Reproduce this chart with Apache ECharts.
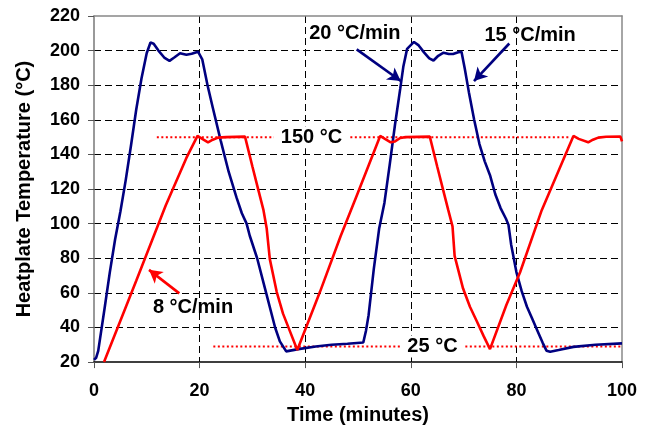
<!DOCTYPE html>
<html>
<head>
<meta charset="utf-8">
<script src="https://cdn.jsdelivr.net/npm/echarts@6/dist/echarts.min.js"></script>
<style>html,body{margin:0;padding:0;background:#fff}#c{width:652px;height:430px}</style>
</head>
<body>
<div id="c"></div>
<script>
// ---- data (time in minutes, temperature in °C) ----
const xTicks = [0, 20, 40, 60, 80, 100];
const yTicks = [20, 40, 60, 80, 100, 120, 140, 160, 180, 200, 220];

const blueTime = [0,0.4,0.8,2,3,4,5,6,7,8,9,9.98,10.7,11.3,12.2,13.3,14.3,15.2,16.3,17.5,18.5,19.7,
  20.5,21.5,22.5,24,25.5,27,28,28.9,29.5,30.9,32.6,34.3,35.2,36.4,38.7,42,45,48,51,
  51.5,52,53,54,55,56,57,58,58.6,59.3,60.6,61.5,62.5,63.5,64.3,65.2,66.2,67.2,68,69,69.6,
  70.2,71,72,73,74,75,76,77,78,78.5,79,80,81,82,83,84,85,85.7,86.4,88,90.8,95,100];
const blueTemp = [21.3,22.5,26.5,51,72,91,107,125,145,166,184,198.5,204.7,204,200,196,194.1,196,198.5,197.6,198.2,199.4,
  195,180,167,148,130,115,106,100,93,80,60,40,32,26.2,27.5,29,30,30.6,31.3,
  38,47,74,97,112,134,157,178,191,201,205,203,199,195.5,194.3,197,198.8,198,198,199,199.4,
  190,176,160,146,136,128,117,109,103,99.3,88,72,61,52,45,38,31,26.6,26,27,28.8,30,30.8];

const redTime = [1.9,8,13.6,17.5,19.6,20.5,21.6,22.5,23.5,25,28.6,
  30,31,32.1,32.7,33.3,34.6,35.8,37.1,38.5,
  42.8,46.7,50,54.2,55.1,56.2,57,58,59,63.6,
  65,66,67.1,67.9,68.3,69.9,71.2,72.5,73.8,75,
  78.1,80.7,84.8,90.8,91.8,93.6,94.5,95.5,97,99.7,100];
const redTemp = [20,67,110.6,138,150.7,149,147,148.5,149.7,150,150.3,
  133,121,107.8,97.4,79.5,60.6,48,37.9,27,
  60.6,92.7,118,150.7,149,147,147.5,149.5,150,150.3,
  133,121,107.8,98.4,81.4,62.5,52,43.6,35,27.5,
  53,71.9,107.8,150.7,149,147,148.5,149.7,150.2,150.3,147.5];

// reference (dotted) lines
const ref150 = [[11.9, 150], [90.2, 150]];
const ref25 = [[22.6, 29], [100, 29]];

// annotations
const noteText = ['20 °C/min', '15 °C/min', '8 °C/min', '150 °C', '25 °C'];
const notePos = [[49.4, 210], [82.6, 209], [18.75, 51.3], [41.2, 150], [64.1, 29]];
const noteBg = ['transparent', 'transparent', 'transparent', '#fff', '#fff'];
const arrowFrom = [[49.75, 200.7], [78.65, 204.1], [16.16, 59.7]];
const arrowTo = [[58.1, 182.4], [71.97, 182.4], [10.42, 73.3]];
const arrowColor = ['#000080', '#000080', '#ff0000'];

const zip = (a, b) => a.map((v, i) => [v, b[i]]);
const FONT = 'Liberation Sans, Arial, sans-serif';

const chart = echarts.init(document.getElementById('c'), null, {renderer: 'canvas'});
chart.setOption({
  animation: false,
  backgroundColor: '#fff',
  textStyle: {fontFamily: FONT},
  grid: {left: 94, right: 30, top: 16, bottom: 62, containLabel: false},
  xAxis: [{
    type: 'value', min: xTicks[0], max: xTicks[xTicks.length - 1], interval: 20,
    name: 'Time (minutes)', nameLocation: 'middle', nameGap: 38,
    nameTextStyle: {fontFamily: FONT, fontWeight: 'bold', fontSize: 20, color: '#000'},
    axisLine: {show: true, onZero: false, lineStyle: {color: '#000', width: 1.5}},
    axisTick: {show: true, inside: false, length: 6, lineStyle: {color: '#555', width: 1}},
    axisLabel: {fontFamily: FONT, fontWeight: 'bold', fontSize: 18, color: '#000', margin: 20},
    splitLine: {show: true, showMinLine: false, showMaxLine: false, lineStyle: {color: '#000', type: [7, 4], width: 1}}
  }, {
    type: 'value', position: 'top', min: 0, max: 100, interval: 20,
    axisLine: {show: true, onZero: false, lineStyle: {color: '#888', width: 1.5}},
    axisTick: {show: false}, axisLabel: {show: false}, splitLine: {show: false}
  }],
  yAxis: [{
    type: 'value', min: yTicks[0], max: yTicks[yTicks.length - 1], interval: 20,
    name: 'Heatplate Temperature (°C)', nameLocation: 'middle', nameGap: 60, nameRotate: 90,
    nameTextStyle: {fontFamily: FONT, fontWeight: 'bold', fontSize: 20, color: '#000'},
    axisLine: {show: true, onZero: false, lineStyle: {color: '#777', width: 1.5}},
    axisTick: {show: true, inside: false, length: 6, lineStyle: {color: '#555', width: 1}},
    axisLabel: {fontFamily: FONT, fontWeight: 'bold', fontSize: 18, color: '#000', margin: 14},
    splitLine: {show: true, showMinLine: false, showMaxLine: false, lineStyle: {color: '#000', type: [7, 4], width: 1}}
  }, {
    type: 'value', position: 'right', min: 20, max: 220, interval: 20,
    axisLine: {show: true, onZero: false, lineStyle: {color: '#888', width: 1.5}},
    axisTick: {show: false}, axisLabel: {show: false}, splitLine: {show: false}
  }],
  series: [
    {
      name: 'ref150', type: 'line', data: ref150, symbol: 'none', silent: true, z: 2,
      lineStyle: {color: '#ff0000', width: 2, type: [2, 2.5]}
    },
    {
      name: 'ref25', type: 'line', data: ref25, symbol: 'none', silent: true, z: 2,
      lineStyle: {color: '#ff0000', width: 2, type: [2, 2.5]}
    },
    {
      name: 'Heatplate', type: 'line', data: zip(blueTime, blueTemp), symbol: 'none', z: 3,
      lineStyle: {color: '#000080', width: 2.6}
    },
    {
      name: 'Sample', type: 'line', data: zip(redTime, redTemp), symbol: 'none', z: 4,
      lineStyle: {color: '#ff0000', width: 2.6},
      markLine: {
        silent: true, animation: false,
        symbol: ['none', 'arrow'], symbolSize: [11, 13],
        label: {show: false},
        data: arrowFrom.map((f, i) => [
          {coord: f, lineStyle: {color: arrowColor[i], width: 2.6, type: 'solid'}},
          {coord: arrowTo[i]}
        ])
      }
    },
    {
      name: 'notes', type: 'scatter', z: 6, symbol: 'circle', symbolSize: 1, silent: true,
      itemStyle: {color: 'rgba(255,255,255,0)', opacity: 1},
      data: notePos.map((p, i) => ({
        value: p, name: noteText[i],
        label: {backgroundColor: noteBg[i]}
      })),
      label: {
        show: true, position: 'inside', formatter: p => p.name,
        fontFamily: FONT, fontWeight: 'bold', fontSize: 20, color: '#000',
        textBorderWidth: 0, opacity: 1,
        padding: [1, 7]
      }
    }
  ]
});
</script>
</body>
</html>
